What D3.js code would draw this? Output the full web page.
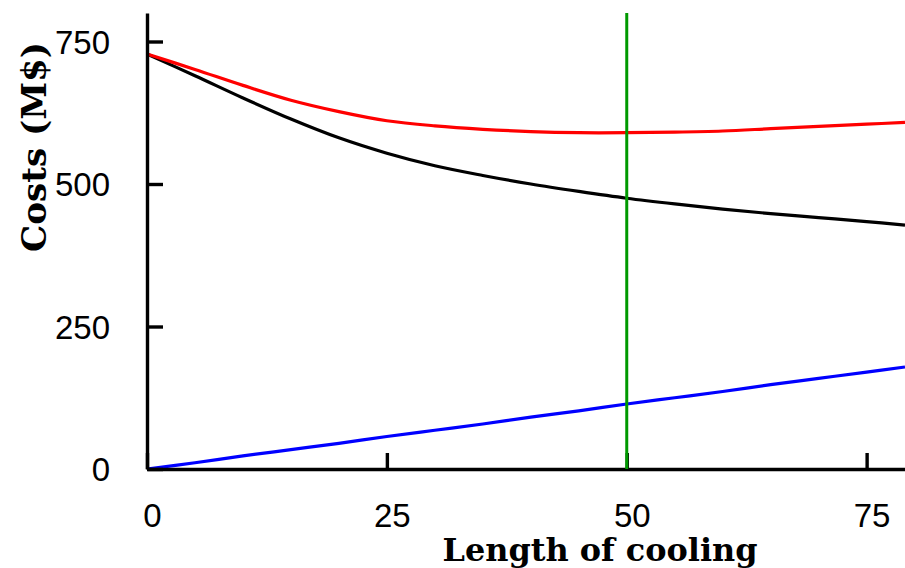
<!DOCTYPE html>
<html>
<head>
<meta charset="utf-8">
<script src="https://cdn.jsdelivr.net/npm/d3@7"></script>
<style>
  html, body { margin: 0; padding: 0; background: #fff; }
  svg { display: block; }
</style>
</head>
<body>
<svg id="chart" width="905" height="568"></svg>
<script>
// ---- data ----
const lengths      = [0, 5, 10, 15, 20, 25, 30, 35, 40, 45, 50, 55, 60, 65, 70, 75, 79];
const baseCost     = [728, 690, 651, 614, 581, 554, 532, 515, 500, 487, 475, 465, 456, 448, 441, 434, 428];
const coolingCost  = [0, 11, 23, 34, 45, 57, 68, 79, 91, 102, 114, 125, 136, 148, 159, 170, 179];
const totalCost    = [728, 701, 673, 647, 627, 611, 602, 596, 592, 590, 590, 591, 593, 597, 601, 605, 608];
const optimumLength = 50;
const xTicks = [0, 25, 50, 75];
const yTicks = [0, 250, 500, 750];
const xTitle = "Length of cooling";
const yTitle = "Costs (M$)";

// ---- layout ----
const svg = d3.select("#chart");
const x = d3.scaleLinear().domain([0, 79]).range([147, 905]);
const y = d3.scaleLinear().domain([0, 800]).range([469, 13]);

const tickFont = "'Liberation Sans', Arial, sans-serif";
const titleFont = "'DejaVu Serif', 'Liberation Serif', serif";

// series lines
const line = d3.line().x(d => x(d[0])).y(d => y(d[1])).curve(d3.curveCatmullRom.alpha(0.5));
const series = [
  { vals: baseCost, color: "#000000" },
  { vals: coolingCost, color: "#0000ff" },
  { vals: totalCost, color: "#ff0000" }
];
series.forEach(s => {
  svg.append("path")
    .datum(lengths.map((l, i) => [l, s.vals[i]]))
    .attr("d", line)
    .attr("fill", "none")
    .attr("stroke", s.color)
    .attr("stroke-width", 3.2)
    .attr("stroke-linejoin", "round");
});

// axes
const xAxis = d3.axisBottom(x).tickValues(xTicks).tickSizeInner(-16).tickSizeOuter(0).tickFormat(d3.format("d"));
const yAxis = d3.axisLeft(y).tickValues(yTicks).tickSizeInner(-16).tickSizeOuter(0).tickFormat(d3.format("d"));

const gx = svg.append("g").attr("transform", `translate(0,${y(0)})`).call(xAxis);
gx.select(".domain").attr("stroke", "#000").attr("stroke-width", 3.4);
gx.selectAll(".tick line").attr("stroke", "#000").attr("stroke-width", 3.4);
gx.selectAll(".tick text")
  .attr("font-family", tickFont).attr("font-size", 33).attr("fill", "#000")
  .attr("y", 0).attr("dy", 0)
  .attr("transform", "translate(5,58)");

const gy = svg.append("g").attr("transform", `translate(${x(0)},0)`).call(yAxis);
gy.select(".domain").attr("stroke", "#000").attr("stroke-width", 3.4);
gy.selectAll(".tick line").attr("stroke", "#000").attr("stroke-width", 3.4);
gy.selectAll(".tick text")
  .attr("font-family", tickFont).attr("font-size", 33).attr("fill", "#000")
  .attr("x", -37).attr("dy", "0.36em");

// optimum marker
svg.append("line")
  .attr("x1", x(optimumLength)).attr("x2", x(optimumLength))
  .attr("y1", y(800)).attr("y2", y(0))
  .attr("stroke", "#009900").attr("stroke-width", 3);

// titles
svg.append("text")
  .attr("x", 600).attr("y", 561)
  .attr("text-anchor", "middle")
  .attr("font-family", titleFont).attr("font-weight", "bold").attr("font-size", 32)
  .attr("textLength", 315).attr("lengthAdjust", "spacingAndGlyphs")
  .text(xTitle);

svg.append("text")
  .attr("transform", "translate(46,147) rotate(-90)")
  .attr("text-anchor", "middle")
  .attr("font-family", titleFont).attr("font-weight", "bold").attr("font-size", 33)
  .attr("textLength", 210).attr("lengthAdjust", "spacingAndGlyphs")
  .text(yTitle);
</script>
</body>
</html>
